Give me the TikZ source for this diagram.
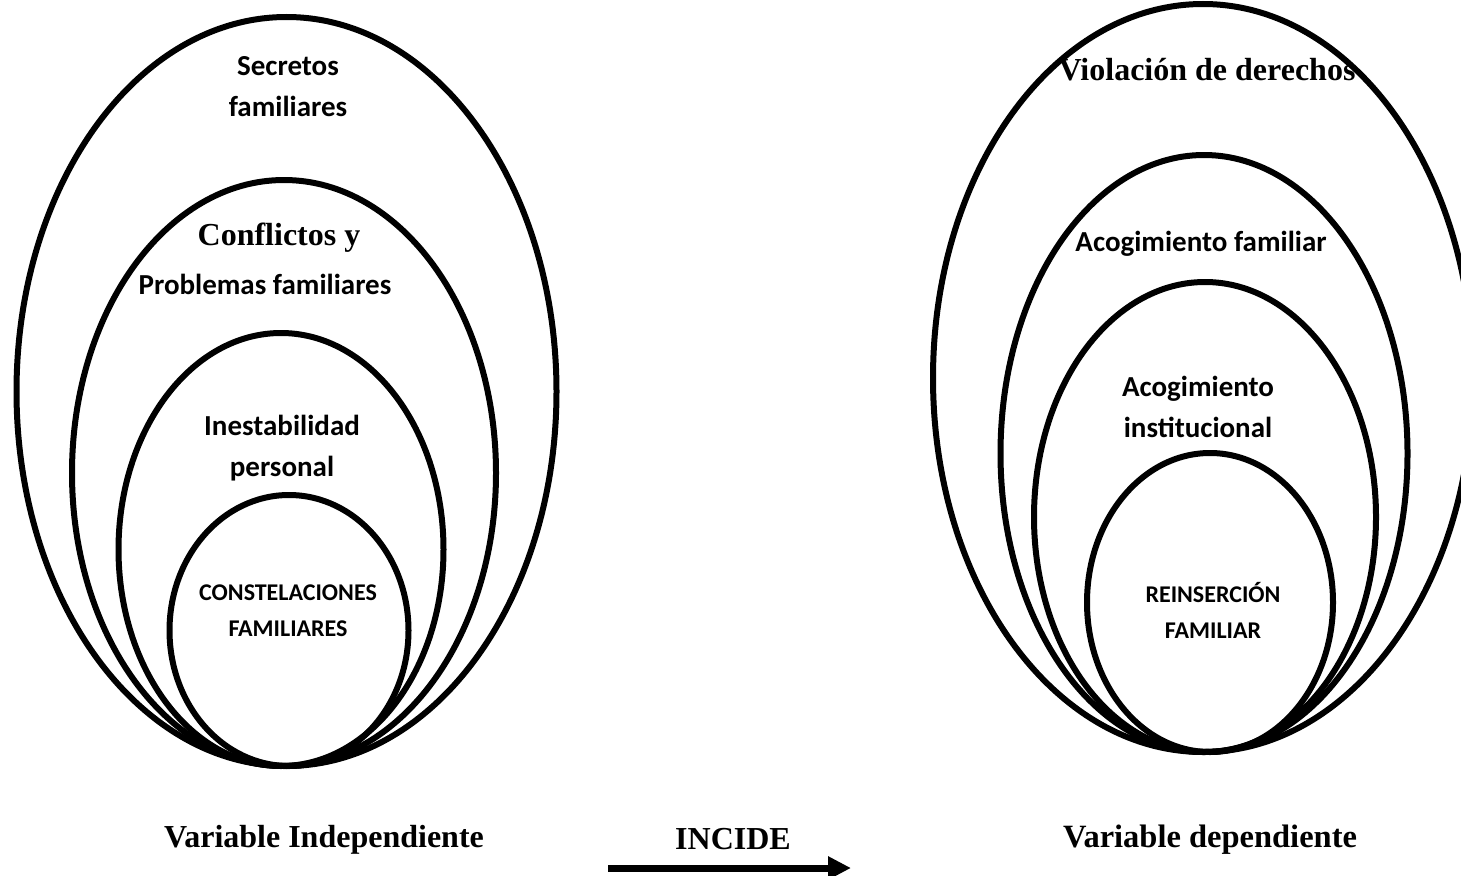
\documentclass[tikz,border=0pt]{standalone}
\usepackage{fontspec}
\setmainfont{Liberation Serif}
\newfontfamily\calfont{Carlito}
\usetikzlibrary{shapes.geometric,arrows.meta}
\begin{document}
\begin{tikzpicture}[x=1pt,y=-1pt,
  ring/.style={draw, ellipse, line width=6pt, inner sep=0pt},
  cal/.style={font=\calfont\bfseries\fontsize{29}{41}\selectfont, align=center, inner sep=0pt},
  calsmall/.style={font=\calfont\bfseries\fontsize{24}{36}\selectfont, align=center, inner sep=0pt},
  tms/.style={font=\bfseries\fontsize{32}{38}\selectfont, inner sep=0pt},
  arr/.style={line width=7pt, -{Triangle[length=23pt,width=22pt]}}]
\useasboundingbox (0,0) rectangle (1461,875);
\clip (0,0) rectangle (1461,875);
% left group
\node[ring, minimum width=540pt, minimum height=749pt] (L1) at (286.5,391.5) {};
\node[ring, minimum width=424pt, minimum height=586pt] (L2) at (284,473) {};
\node[ring, minimum width=325pt, minimum height=433pt] (L3) at (281,549.5) {};
\node[ring, minimum width=239pt, minimum height=271pt] (L4) at (289,630.5) {};
% right group
\node[ring, minimum width=540pt, minimum height=748pt] (R1) at (1203,378) {};
\node[ring, minimum width=407pt, minimum height=597pt] (R2) at (1204,453.5) {};
\node[ring, minimum width=342pt, minimum height=470pt] (R3) at (1205,517) {};
\node[ring, minimum width=246pt, minimum height=299pt] (R4) at (1210,602.5) {};
% labels left
\node[cal] (sec) at (288,87) {Secretos\\familiares};
\node[tms] (conf) at (279,238) {Conflictos y};
\node[cal] (prob) at (265,284) {Problemas familiares};
\node[cal] (ines) at (282,448) {Inestabilidad\\personal};
\node[calsmall] (cons) at (288,611) {CONSTELACIONES\\FAMILIARES};
% labels right
\node[tms] (viol) at (1207,70) {Violación de derechos};
\node[cal] (acof) at (1201,244) {Acogimiento familiar};
\node[cal] (acoi) at (1198,407) {Acogimiento\\institucional};
\node[calsmall] (rein) at (1213,610) {REINSERCIÓN\\FAMILIAR};
% bottom
\node[tms] (vind) at (324,840) {Variable Independiente};
\node[tms] (inc) at (733,839) {INCIDE};
\node[tms, font=\bfseries\fontsize{32.5}{38}\selectfont] (vdep) at (1210,840) {Variable dependiente};
\coordinate (a1) at (608,868);
\coordinate (a2) at (851,868);
\draw[arr] (a1) -- (a2);
\end{tikzpicture}
\end{document}
